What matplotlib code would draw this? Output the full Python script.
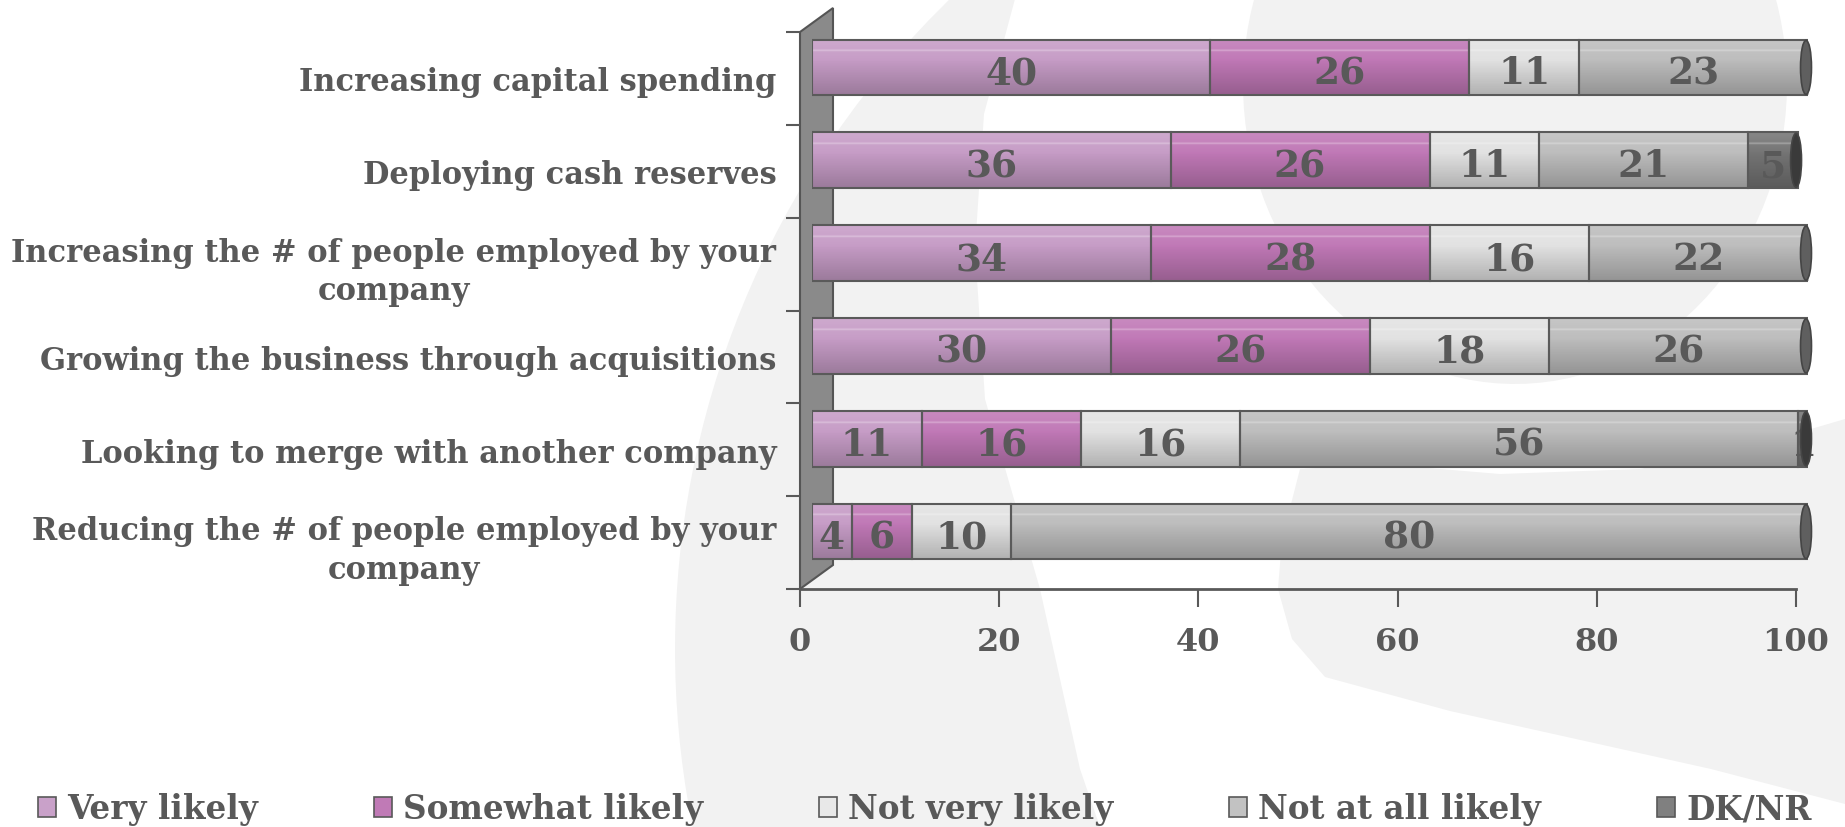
import numpy as np
import matplotlib
matplotlib.use("Agg")
import matplotlib.pyplot as plt
from matplotlib.patches import Polygon, Ellipse, Patch
from matplotlib.colors import to_rgb

# ---------------- data ----------------
categories = [
    "Increasing capital spending",
    "Deploying cash reserves",
    "Increasing the # of people employed by your\ncompany",
    "Growing the business through acquisitions",
    "Looking to merge with another company",
    "Reducing the # of people employed by your\ncompany",
]
series_names = ["Very likely", "Somewhat likely", "Not very likely", "Not at all likely", "DK/NR"]
very_likely = [40, 36, 34, 30, 11, 4]
somewhat_likely = [26, 26, 28, 26, 16, 6]
not_very_likely = [11, 11, 16, 18, 16, 10]
not_at_all_likely = [23, 21, 22, 26, 56, 80]
dk_nr = [0, 5, 0, 0, 1, 0]
x_ticks = [0, 20, 40, 60, 80, 100]

# ---------------- style ----------------
bar_colors = ["#c69cc6", "#c078b6", "#e2e2e2", "#bdbdbd", "#747474"]
legend_colors = ["#c9a1c9", "#c07ab6", "#e8e8e8", "#c2c2c2", "#808080"]
text_col = "#595959"
FONT = "DejaVu Serif"
W, H = 1845, 828

fig = plt.figure(figsize=(W / 100, H / 100), dpi=100)
fig.patch.set_facecolor("white")

# ---------- faint background watermark ----------
wm = "#f2f2f2"
def px(points):
    return [(x / W, 1 - y / H) for x, y in points]

yy = np.linspace(0, 828, 40)
left_edge = [(1581 - np.sqrt(906**2 - (y - 650) ** 2), y) for y in yy]
right_pts_y = [828, 770, 590, 400, 250, 115, 0]
right_pts_x = [1100, 1080, 1040, 985, 975, 984, 1015]
right_edge = list(zip(right_pts_x, right_pts_y))
fig.patches.append(Polygon(px(left_edge + right_edge), closed=True, facecolor=wm,
                           edgecolor="none", transform=fig.transFigure, zorder=-10))
tt = np.linspace(0, 2 * np.pi, 120)
ell = [(1515 + 272 * np.cos(t), 85 + 300 * np.sin(t)) for t in tt]
fig.patches.append(Polygon(px(ell), closed=True, facecolor=wm, edgecolor="none",
                           transform=fig.transFigure, zorder=-10))
low = [(1300, 470), (1282, 540), (1278, 590), (1292, 640), (1325, 678), (1450, 712),
       (1711, 770), (1845, 805), (1845, 420), (1760, 445), (1640, 470), (1500, 475),
       (1380, 465)]
fig.patches.append(Polygon(px(low), closed=True, facecolor=wm, edgecolor="none",
                           transform=fig.transFigure, zorder=-10))

# ---------------- axes ----------------
ax_l, ax_r, ax_t, ax_b = 800, 1796, 33, 590
rect = [ax_l / W, 1 - ax_b / H, (ax_r - ax_l) / W, (ax_b - ax_t) / H]
ax = fig.add_axes(rect)
ax.patch.set_visible(False)
n = len(categories)
ypos = np.arange(n)
ax.set_xlim(0, 100)
ax.set_ylim(n - 0.5, -0.5)

for s in ["top", "right", "left"]:
    ax.spines[s].set_visible(False)
ax.spines["bottom"].set_color(text_col)
ax.spines["bottom"].set_linewidth(2)

ax.set_xticks(x_ticks)
ax.set_xticklabels([str(v) for v in x_ticks])
ax.tick_params(axis="x", direction="out", length=13, width=1.5, color=text_col,
               pad=14, labelsize=23, labelcolor=text_col)
for lbl in ax.get_xticklabels():
    lbl.set_fontfamily(FONT)
    lbl.set_fontweight("bold")

ax.set_yticks(np.arange(n + 1) - 0.5)
ax.set_yticklabels([])
ax.tick_params(axis="y", which="major", direction="out", length=10, width=1.5, color=text_col)
ax.set_yticks(ypos, minor=True)
ax.set_yticklabels(categories, minor=True)
ax.tick_params(axis="y", which="minor", length=0, pad=17, labelsize=22, labelcolor=text_col)
for lbl in ax.get_yticklabels(minor=True):
    lbl.set_fontfamily(FONT)
    lbl.set_fontweight("bold")
    lbl.set_multialignment("center")
    lbl.set_linespacing(1.32)

# back wall
dxw = 33 / (ax_r - ax_l)
dyw = 24 / (ax_b - ax_t)
wall = Polygon([(0, 0), (0, 1), (dxw, 1 + dyw), (dxw, dyw)], closed=True,
               transform=ax.transAxes, facecolor="#8a8a8a", edgecolor="#555555",
               lw=1.5, clip_on=False, zorder=1)
ax.add_patch(wall)

# ---------------- bars (offset for 3D depth) ----------------
offx, offy = 12, 11
rect_b = [(ax_l + offx) / W, 1 - (ax_b - offy) / H, (ax_r - ax_l) / W, (ax_b - ax_t) / H]
axb = fig.add_axes(rect_b, zorder=2)
axb.patch.set_visible(False)
axb.axis("off")
axb.set_xlim(0, 100)
axb.set_ylim(n - 0.5, -0.5)

bar_h = 0.6
series = [very_likely, somewhat_likely, not_very_likely, not_at_all_likely, dk_nr]

t = np.linspace(0, 1, 200)
alpha_w = np.clip(0.14 * (1 - t / 0.4), 0, None) + 0.30 * np.exp(-((t - 0.2) / 0.015) ** 2)
alpha_k = np.clip(0.22 * (t - 0.35) / 0.65, 0, None)
shade = np.zeros((len(t), 1, 4))
rgbval = np.where(alpha_w > alpha_k, 1.0, 0.0)
shade[:, 0, 0] = rgbval
shade[:, 0, 1] = rgbval
shade[:, 0, 2] = rgbval
shade[:, 0, 3] = np.clip(np.abs(alpha_w - alpha_k), 0, 1)

left = np.zeros(n)
for vals, col in zip(series, bar_colors):
    vals = np.array(vals, dtype=float)
    bars = axb.barh(ypos, vals, left=left, height=bar_h, color=col, edgecolor="none", zorder=3)
    for p, v in zip(bars.patches, vals):
        if v <= 0:
            continue
        x0, y0, w_, h_ = p.get_x(), p.get_y(), p.get_width(), p.get_height()
        im = axb.imshow(shade, extent=(x0, x0 + w_, y0 + h_, y0), aspect="auto",
                        interpolation="bilinear", zorder=3.5)
        im.set_clip_path(p)
    axb.barh(ypos, vals, left=left, height=bar_h, fill=False, edgecolor="#5a5a5a",
             linewidth=1.5, zorder=4)
    for yi, (l, v) in enumerate(zip(left, vals)):
        if v > 0:
            a = axb.annotate(f"{int(v)}", (l + v / 2, yi), xytext=(0, -4),
                             textcoords="offset points", ha="center", va="center",
                             fontsize=27, fontfamily=FONT, fontweight="bold",
                             color=text_col, zorder=5)
            a.set_clip_on(True)
    left = left + vals

# right-end caps of the cylinders
for yi in range(n):
    last = [c for vals, c in zip(series, bar_colors) if vals[yi] > 0][-1]
    capc = tuple(np.array(to_rgb(last)) * 0.5)
    axb.add_patch(Ellipse((left[yi] - 0.2, yi), width=1.1, height=bar_h * 0.97,
                          facecolor=capc, edgecolor="#454545", lw=1.2, zorder=6,
                          clip_on=False))

axb.set_xlim(0, 100)
axb.set_ylim(n - 0.5, -0.5)

# ---------------- legend ----------------
handles = [Patch(facecolor=c, edgecolor="#595959", lw=1.2) for c in legend_colors]
leg = fig.legend(handles, series_names, loc="center left",
                 bbox_to_anchor=(38 / W, 1 - 810 / H), ncol=5, frameon=False,
                 prop={"family": FONT, "weight": "bold", "size": 23.5},
                 handlelength=0.55, handleheight=0.55, handletextpad=0.35,
                 columnspacing=3.54, borderpad=0, borderaxespad=0, labelcolor=text_col)

fig.savefig("out.png", dpi=100, facecolor="white")
